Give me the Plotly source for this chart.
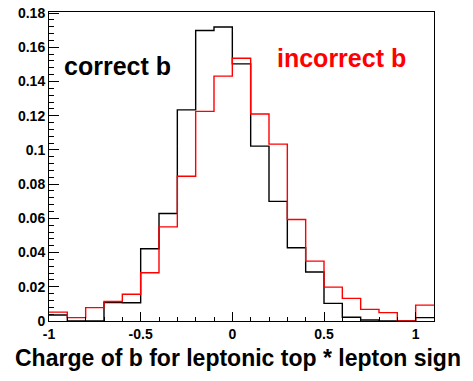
import plotly.graph_objects as go

# Bin edges (-1.0 to 1.1, width 0.1)
bin_edges = [round(-1.0 + 0.1 * i, 1) for i in range(22)]

# Normalized fractions per bin
correct_b = [0.0035, 0.0, 0.0, 0.0108, 0.0107, 0.0422, 0.0628, 0.1234, 0.1698, 0.1718,
             0.1503, 0.1022, 0.0699, 0.0428, 0.0286, 0.0103, 0.0022, 0.0006, 0.0, 0.0, 0.002]
incorrect_b = [0.0052, 0.002, 0.0078, 0.0114, 0.0156, 0.0282, 0.055, 0.0846, 0.1225, 0.1431,
               0.1536, 0.121, 0.1034, 0.0593, 0.035, 0.0198, 0.0132, 0.0068, 0.0049, 0.0, 0.0093]

x_tick_vals = [-1, -0.5, 0, 0.5, 1]
x_tick_text = ["-1", "-0.5", "0", "0.5", "1"]
y_tick_vals = [0, 0.02, 0.04, 0.06, 0.08, 0.1, 0.12, 0.14, 0.16, 0.18]
y_tick_text = ["0", "0.02", "0.04", "0.06", "0.08", "0.1", "0.12", "0.14", "0.16", "0.18"]

FONT = "Liberation Sans, Arial, Helvetica, sans-serif"

fig = go.Figure()
fig.add_trace(go.Scatter(x=bin_edges, y=correct_b + [correct_b[-1]], mode="lines",
                         line=dict(shape="hv", color="#000000", width=1.4),
                         name="correct b", showlegend=False))
fig.add_trace(go.Scatter(x=bin_edges, y=incorrect_b + [incorrect_b[-1]], mode="lines",
                         line=dict(shape="hv", color="#ff0000", width=1.4),
                         name="incorrect b", showlegend=False))

fig.update_layout(
    width=473, height=381,
    margin=dict(l=49, r=39, t=12, b=60, autoexpand=False),
    paper_bgcolor="white", plot_bgcolor="white",
    font=dict(family=FONT, color="black", size=14, weight="bold"),
    xaxis=dict(range=[-1, 1.1], tickmode="array", tickvals=x_tick_vals, ticktext=x_tick_text,
               ticks="inside", ticklen=9, tickcolor="black", tickwidth=1, automargin=False,
               ticklabeloverflow="allow",
               minor=dict(tickmode="linear", tick0=-1, dtick=0.1, ticks="inside", ticklen=4,
                          tickcolor="black", tickwidth=1, showgrid=False),
               showgrid=False, zeroline=False, showline=True, linecolor="black", linewidth=1,
               mirror=True, tickfont=dict(family=FONT, size=14, weight="bold")),
    yaxis=dict(range=[0, 0.1806], tickmode="array", tickvals=y_tick_vals, ticktext=y_tick_text,
               ticks="inside", ticklen=10, tickcolor="black", tickwidth=1, automargin=False,
               ticklabeloverflow="allow",
               minor=dict(tickmode="linear", tick0=0, dtick=0.004, ticks="inside", ticklen=5,
                          tickcolor="black", tickwidth=1, showgrid=False),
               showgrid=False, zeroline=False, showline=True, linecolor="black", linewidth=1,
               mirror=True, tickfont=dict(family=FONT, size=14, weight="bold")),
    annotations=[
        dict(text="correct b", x=-0.927, y=0.149, xref="x", yref="y", xanchor="left",
             yanchor="middle", showarrow=False,
             font=dict(family=FONT, size=25, color="black", weight="bold")),
        dict(text="incorrect b", x=0.233, y=0.1538, xref="x", yref="y", xanchor="left",
             yanchor="middle", showarrow=False,
             font=dict(family=FONT, size=25, color="#ff0000", weight="bold")),
        dict(text="Charge of b for leptonic top * lepton sign", x=0.49, y=0, xref="paper",
             yref="paper", xanchor="center", yanchor="middle", yshift=-37, showarrow=False,
             font=dict(family=FONT, size=23, color="black", weight="bold")),
    ],
)

# remove the page's default body margin so the figure fills the window exactly
fig.write_html("out.html", config={"displayModeBar": False},
               post_script="document.body.style.margin='0';")
